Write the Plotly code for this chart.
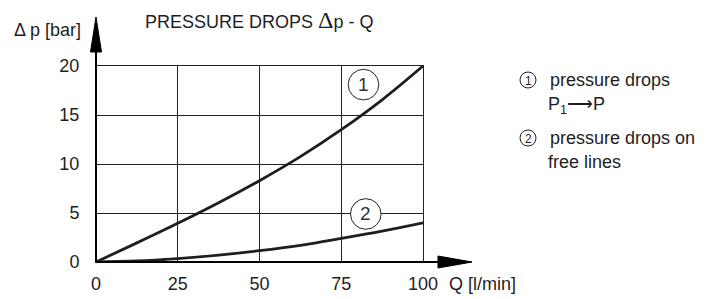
import plotly.graph_objects as go

# ---- data ----
flow_q = [0, 12.5, 25, 37.5, 50, 62.5, 75, 87.5, 100]
dp_curve1 = [0, 1.95, 3.95, 6.05, 8.3, 10.75, 13.5, 16.55, 20.0]
dp_curve2 = [0, 0.1, 0.35, 0.7, 1.15, 1.7, 2.4, 3.15, 4.0]
x_ticks = [0, 25, 50, 75, 100]
y_ticks = [0, 5, 10, 15, 20]
curve_labels = ["1", "2"]
legend_lines = ["pressure drops", "P<sub>1</sub>⟶P", "pressure drops on", "free lines"]

W, H = 712, 299
L, R, T, B = 96, 289, 66, 37
PW, PH = W - L - R, H - T - B

def px(xp):
    return (xp - L) / PW

def py(yp):
    return (H - B - yp) / PH

FONT = "Liberation Sans, Arial, sans-serif"
INK = "#1e1e1e"

fig = go.Figure()
fig.add_trace(go.Scatter(x=flow_q, y=dp_curve1, mode="lines",
                         line=dict(color=INK, width=2.8, shape="spline"),
                         hoverinfo="skip", showlegend=False))
fig.add_trace(go.Scatter(x=flow_q, y=dp_curve2, mode="lines",
                         line=dict(color=INK, width=2.8, shape="spline"),
                         hoverinfo="skip", showlegend=False))

shapes = []
# axis lines with arrows (paper coords, unclipped)
shapes.append(dict(type="line", xref="paper", yref="paper", x0=0, y0=0, x1=px(440), y1=0,
                   line=dict(color="black", width=2)))
shapes.append(dict(type="line", xref="paper", yref="paper", x0=0, y0=0, x1=0, y1=py(50),
                   line=dict(color="black", width=2)))
shapes.append(dict(type="path", xref="paper", yref="paper",
                   path=f"M {px(438)} {py(256)} L {px(472)} 0 L {px(438)} {py(268)} Z",
                   fillcolor="black", line=dict(color="black", width=1)))
shapes.append(dict(type="path", xref="paper", yref="paper",
                   path=f"M {px(90.5)} {py(52)} L {px(96)} {py(17)} L {px(101.5)} {py(52)} Z",
                   fillcolor="black", line=dict(color="black", width=1)))
# circled curve labels
circ = [(81.8, 18.1), (82.5, 4.9)]
rx, ry = 15.3 / PW * 100, 15.3 / PH * 20
for (cx, cy) in circ:
    shapes.append(dict(type="circle", xref="x", yref="y",
                       x0=cx - rx, x1=cx + rx, y0=cy - ry, y1=cy + ry,
                       fillcolor="white", line=dict(color="#222", width=1), layer="above"))

ann = []
for (cx, cy), lab in zip(circ, curve_labels):
    ann.append(dict(x=cx, y=cy, xref="x", yref="y", text=lab, showarrow=False,
                    font=dict(family=FONT, size=19, color="#333"), xanchor="center", yanchor="middle"))

def txt(xp, yp, s, size=18, anchor="left", family=FONT):
    ann.append(dict(x=px(xp), y=py(yp), xref="paper", yref="paper", text=s, showarrow=False,
                    font=dict(family=family, size=size, color=INK), xanchor=anchor, yanchor="middle"))

txt(143, 20, "PRESSURE DROPS <span style='font-family:Liberation Serif, Times New Roman, serif;font-size:24px'>Δ</span>p - Q")
txt(12, 30, "Δ p [bar]")
txt(447, 284, "Q [l/min]")

# legend: small circled numbers drawn as shapes + text
leg_circ = [(528, 80, curve_labels[0]), (528, 138, curve_labels[1])]
for (cxp, cyp, lab) in leg_circ:
    r = 8
    shapes.append(dict(type="circle", xref="paper", yref="paper",
                       x0=px(cxp - r), x1=px(cxp + r), y0=py(cyp + r), y1=py(cyp - r),
                       fillcolor="white", line=dict(color=INK, width=1)))
    txt(cxp, cyp + 0.5, lab, size=12, anchor="center")
txt(548, 80, legend_lines[0])
txt(546, 105, legend_lines[1])
txt(548, 138, legend_lines[2])
txt(546, 162, legend_lines[3])

fig.update_layout(
    width=W, height=H, margin=dict(l=L, r=R, t=T, b=B, autoexpand=False),
    paper_bgcolor="white", plot_bgcolor="white",
    shapes=shapes, annotations=ann, showlegend=False,
    font=dict(family=FONT, size=18, color=INK),
)
fig.update_xaxes(range=[0, 100], tickvals=x_ticks, ticktext=[str(v) for v in x_ticks],
                 showgrid=True, gridcolor="#222", gridwidth=1, zeroline=False,
                 showline=True, mirror=True, linecolor="#222", linewidth=1,
                 ticks="outside", ticklen=0, ticklabelstandoff=5, automargin=False,
                 tickfont=dict(family=FONT, size=18, color=INK), fixedrange=True)
fig.update_yaxes(range=[0, 20], tickvals=y_ticks, ticktext=[str(v) for v in y_ticks],
                 showgrid=True, gridcolor="#222", gridwidth=1, zeroline=False,
                 showline=True, mirror=True, linecolor="#222", linewidth=1,
                 ticks="outside", ticklen=0, ticklabelstandoff=12, automargin=False,
                 tickfont=dict(family=FONT, size=18, color=INK), fixedrange=True)

fig.write_html("out.html", config={"displayModeBar": False},
               post_script="document.body.style.margin='0';document.body.style.padding='0';")
